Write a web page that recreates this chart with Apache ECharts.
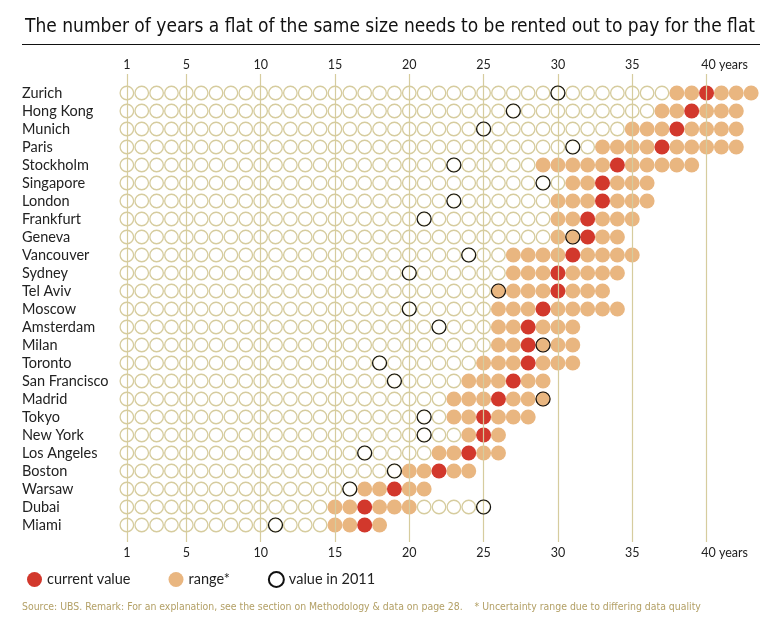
<!DOCTYPE html>
<html>
<head>
<meta charset="utf-8">
<script src="https://cdn.jsdelivr.net/npm/echarts@6/dist/echarts.min.js"></script>
<style>
html,body{margin:0;padding:0;background:#fff;}
#c{width:782px;height:627px;}
</style>
</head>
<body>
<div id="c"></div>
<script>
var cities = ["Zurich","Hong Kong","Munich","Paris","Stockholm","Singapore","London","Frankfurt","Geneva","Vancouver","Sydney","Tel Aviv","Moscow","Amsterdam","Milan","Toronto","San Francisco","Madrid","Tokyo","New York","Los Angeles","Boston","Warsaw","Dubai","Miami"];
var currentValue = [40,39,38,37,34,33,33,32,32,31,30,30,29,28,28,28,27,26,25,25,24,22,19,17,17];
var rangeMin =     [38,37,35,33,29,31,30,30,30,27,27,26,26,26,26,25,24,23,23,24,22,20,17,15,15];
var rangeMax =     [43,42,42,42,39,36,36,35,34,35,34,33,34,31,31,31,29,29,28,26,26,24,21,20,18];
var value2011 =    [30,27,25,31,23,29,23,21,31,24,20,26,20,22,29,18,19,29,21,21,17,19,16,25,11];
var tickLabels = [1,5,10,15,20,25,30,35,40];

var FONT = "Lato";
var NARROW = "'DejaVu Sans Condensed', 'Liberation Sans Narrow', sans-serif";
var TAN_LINE = "#d6cc9e";
var RANGE_C = "#e9b680";
var RED_C = "#d2382c";

var hollowData = [], rangeData = [], currentData = [], y2011Data = [];
cities.forEach(function(c, i){
  var lastHollow = Math.max(rangeMin[i]-1, value2011[i]);
  for (var v = 1; v <= lastHollow; v++) {
    if (v < rangeMin[i] || v > rangeMax[i]) hollowData.push([v, c]);
  }
  for (var r = rangeMin[i]; r <= rangeMax[i]; r++) {
    if (r !== currentValue[i]) rangeData.push([r, c]);
  }
  currentData.push([currentValue[i], c]);
  y2011Data.push([value2011[i], c]);
});

var chart = echarts.init(document.getElementById('c'), null, {renderer:'canvas'});
var xCommon = {type:'value', min:0, max:44, axisLine:{show:false}, axisTick:{show:false}, splitLine:{show:false}};
var tickLabelCfg = function(margin){
  return {show:true, customValues:tickLabels, margin:margin, fontFamily:FONT, fontSize:12.5, color:'#222',
    formatter:function(v){return v===40?'{y|40 years}':String(v);},
    rich:{y:{fontFamily:FONT,fontSize:12.5,color:'#222',padding:[0,0,0,36]}}};
};
chart.setOption({
  animation:false,
  backgroundColor:'#fff',
  title:{
    text:'The number of years a flat of the same size needs to be rented out to pay for the flat',
    left:20, top:13,
    textStyle:{fontFamily:NARROW, fontSize:19, fontWeight:'normal', color:'#111'}
  },
  graphic:[
    {type:'line', shape:{x1:22,y1:44.5,x2:760,y2:44.5}, style:{stroke:'#111', lineWidth:1}},
    {type:'text', left:22, top:602, style:{text:'Source: UBS. Remark: For an explanation, see the section on Methodology & data on page 28.    * Uncertainty range due to differing data quality', fontFamily:NARROW, fontSize:10.4, fill:'#b3a066'}}
  ],
  legend:{
    data:['current value','range*','value in 2011'],
    left:22, top:566, itemWidth:15, itemHeight:15, itemGap:38,
    textStyle:{fontFamily:FONT, fontSize:14.5, color:'#222', padding:[0,0,0,0]},
    selectedMode:false
  },
  grid:[
    {left:112, right:16, top:84, height:450},
    {left:112, right:16, top:74, bottom:85}
  ],
  xAxis:[
    Object.assign({gridIndex:0, axisLabel:{show:false}}, xCommon),
    Object.assign({gridIndex:1, position:'top', axisLabel:tickLabelCfg(3)}, xCommon),
    Object.assign({gridIndex:1, position:'bottom', axisLabel:tickLabelCfg(4)}, xCommon)
  ],
  yAxis:[
    {gridIndex:0, type:'category', data:cities, inverse:true, boundaryGap:true,
     axisLine:{show:false}, axisTick:{show:false}, splitLine:{show:false},
     axisLabel:{interval:0, align:'left', margin:90, fontFamily:FONT, fontSize:14.5, color:'#222'}},
    {gridIndex:1, type:'value', min:0, max:1, show:false}
  ],
  series:[
    {type:'line', xAxisIndex:1, yAxisIndex:1, data:[], silent:true,
     markLine:{silent:true, symbol:['none','none'], label:{show:false},
       lineStyle:{color:TAN_LINE, width:1.2, type:'solid'},
       data: tickLabels.map(function(t){return {xAxis:t};})}},
    {name:'hollow', type:'scatter', xAxisIndex:0, yAxisIndex:0, data:hollowData, symbol:'circle', symbolSize:13.5, silent:true,
     itemStyle:{color:'#fff', borderColor:TAN_LINE, borderWidth:1.3, opacity:1}},
    {name:'range*', type:'scatter', xAxisIndex:0, yAxisIndex:0, data:rangeData, symbol:'circle', symbolSize:15, silent:true,
     itemStyle:{color:RANGE_C, opacity:1}},
    {name:'current value', type:'scatter', xAxisIndex:0, yAxisIndex:0, data:currentData, symbol:'circle', symbolSize:15, silent:true,
     itemStyle:{color:RED_C, opacity:1}},
    {name:'value in 2011', type:'scatter', xAxisIndex:0, yAxisIndex:0, data:y2011Data, symbol:'circle', symbolSize:14, silent:true,
     itemStyle:{color:'rgba(255,255,255,0)', borderColor:'#111', borderWidth:1.2, opacity:1}, z:5}
  ]
});
</script>
</body>
</html>
